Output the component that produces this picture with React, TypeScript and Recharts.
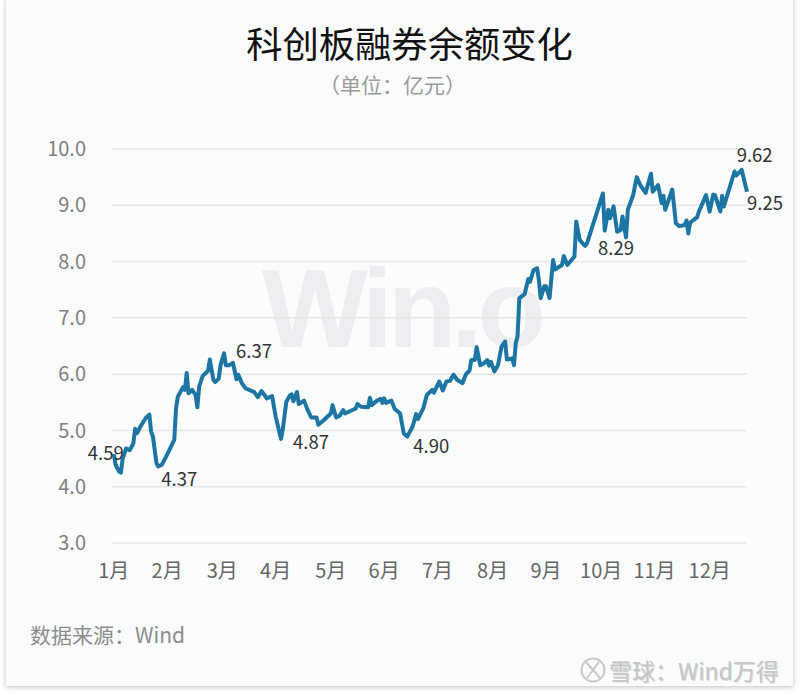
import { LineChart, Line, XAxis, YAxis, CartesianGrid, ReferenceDot } from "recharts";

const days = [
  0, 1, 3, 4, 5, 7, 9, 11, 12, 13, 15, 18, 20, 21, 22, 24, 25, 27, 30, 34, 35, 36, 39, 40, 41, 42, 44, 46, 47, 48, 50, 53, 54, 56, 57, 59,
  60, 62, 63, 65, 67, 69, 70, 72, 74, 79, 81, 83, 85, 86, 89, 91, 94, 95, 97, 99, 100, 101, 103, 104, 107, 109, 111, 114, 115, 118,
  122, 123, 125, 127, 129, 130, 136, 137, 139, 143, 144, 145, 148, 150, 151, 152, 153, 156, 158, 161,
  163, 165, 168, 170, 171, 174, 176, 179, 180, 183, 185, 187, 189, 191, 193, 196, 198, 200, 201, 203, 204, 206, 208, 210, 211, 212, 214, 216, 218, 220, 221, 224, 225, 226,
  227, 228, 231, 233, 234, 236, 238, 239, 240, 242, 243, 245, 247, 248, 252, 253, 255, 259, 260, 262, 265, 266,
  275, 276, 278, 279, 281, 283, 285, 286, 288, 289, 292, 294, 296, 299, 302, 303, 306, 308, 309, 310, 314,
  316, 318, 321, 322, 323, 324, 328, 329, 332, 333, 335, 337, 338, 341, 342, 343, 349, 350, 353, 356,
];

const balance = [
  4.58, 4.39, 4.27, 4.25, 4.5, 4.68, 4.65, 4.77, 5.03, 4.95, 5.07, 5.22, 5.28, 4.98, 4.89, 4.42, 4.36, 4.39, 4.57, 4.83, 5.39, 5.6, 5.77, 5.72, 6.02, 5.66, 5.72, 5.63, 5.41, 5.78, 5.97, 6.06, 6.26, 5.9, 5.86, 5.92,
  6.16, 6.37, 6.16, 6.16, 6.2, 5.91, 5.99, 5.84, 5.75, 5.68, 5.59, 5.7, 5.62, 5.57, 5.61, 5.25, 4.85, 5.01, 5.51, 5.62, 5.64, 5.52, 5.68, 5.47, 5.53, 5.36, 5.23, 5.23, 5.1, 5.18,
  5.3, 5.45, 5.23, 5.26, 5.36, 5.3, 5.39, 5.47, 5.42, 5.41, 5.58, 5.45, 5.53, 5.56, 5.49, 5.57, 5.49, 5.53, 5.38, 5.3,
  4.95, 4.89, 5.07, 5.29, 5.2, 5.39, 5.63, 5.72, 5.67, 5.87, 5.71, 5.87, 5.88, 5.99, 5.9, 5.84, 6.0, 6.06, 6.25, 6.25, 6.48, 6.16, 6.19, 6.25, 6.15, 6.22, 6.05, 6.16, 6.49, 6.58, 6.26, 6.28, 6.16, 6.55,
  6.67, 7.35, 7.42, 7.69, 7.64, 7.85, 7.88, 7.67, 7.35, 7.56, 7.56, 7.35, 8.03, 7.86, 7.94, 8.1, 7.94, 8.09, 8.71, 8.38, 8.28, 8.32,
  9.21, 8.55, 8.92, 8.77, 8.98, 8.53, 8.56, 8.8, 8.43, 8.92, 9.18, 9.5, 9.36, 9.22, 9.56, 9.24, 9.36, 9.04, 9.17, 8.92, 9.28,
  8.68, 8.63, 8.65, 8.73, 8.5, 8.69, 8.79, 8.89, 9.11, 9.18, 8.89, 9.19, 9.18, 8.89, 9.17, 8.98, 9.6, 9.53, 9.63, 9.24,
];

const monthTicks = [0, 30, 61, 91, 122, 152, 182, 213, 243, 274, 304, 335];
const monthLabels = ["1月", "2月", "3月", "4月", "5月", "6月", "7月", "8月", "9月", "10月", "11月", "12月"];
const valueTicks = [3, 4, 5, 6, 7, 8, 9, 10];

const calloutDays = [0, 25, 62, 94, 165, 288, 353, 356];
const calloutValues = [4.58, 4.36, 6.37, 4.85, 4.89, 8.43, 9.63, 9.24];
const calloutLabels = ["4.59", "4.37", "6.37", "4.87", "4.90", "8.29", "9.62", "9.25"];
const calloutOffsets = [[-8, -2], [21, 12], [30, -3], [30, 2], [24, 8], [-10, 10], [13, -16], [18, 10]];

const rows = days.map((day, i) => ({ day, value: balance[i] }));
const cjk = '"Noto Sans CJK SC", "Noto Sans", sans-serif';

export default function App() {
  return (
    <div style={{ position: "absolute", left: 0, top: 0, width: 800, height: 695, background: "#fff", overflow: "hidden", fontFamily: cjk }}>
      <div style={{ position: "absolute", left: 6, top: -4, width: 787, height: 690, background: "#fbfcfe", boxShadow: "0 1px 5px rgba(0,0,0,0.25)" }} />
      <div style={{ position: "absolute", left: 0, width: 819, top: 17, textAlign: "center", fontSize: 36.3, lineHeight: "50px", color: "#111" }}>科创板融券余额变化</div>
      <div style={{ position: "absolute", left: 0, width: 785, top: 69, textAlign: "center", fontSize: 21, lineHeight: "30px", color: "#9a9a9a" }}>（单位：亿元）</div>
      <div style={{ position: "absolute", left: 262, top: 268, fontFamily: '"Liberation Sans", sans-serif', fontWeight: 700, fontSize: 112, lineHeight: "82px", letterSpacing: -5, color: "#edeef1", whiteSpace: "nowrap" }}>Win.o</div>
      <div style={{ position: "absolute", left: 30, top: 618, fontSize: 21, lineHeight: "32px", color: "#8c8c8c" }}>数据来源：Wind</div>
      <svg width={28} height={28} style={{ position: "absolute", left: 579, top: 656 }}>
        <circle cx={14} cy={14} r={11.5} fill="none" stroke="#c8c8c8" strokeWidth={2} />
        <path d="M7 6 L14 14 L8 22 M20 6 L14 14 L21 22" fill="none" stroke="#c8c8c8" strokeWidth={2} />
      </svg>
      <div style={{ position: "absolute", left: 609, top: 654, fontSize: 23, lineHeight: "32px", color: "#c6c6c6", textShadow: "1px 1px 0 #8f8f8f55", whiteSpace: "nowrap" }}>雪球：Wind万得</div>
      <div style={{ position: "absolute", left: 0, top: 0 }}>
        <LineChart width={800} height={695} data={rows} margin={{ top: 149, right: 53, bottom: 112, left: 12 }}>
          <CartesianGrid vertical={false} stroke="#e6e6e6" strokeWidth={1.5} />
          <XAxis
            dataKey="day"
            type="number"
            domain={[-1, 356]}
            ticks={monthTicks}
            interval={0}
            tickFormatter={(d: number) => monthLabels[monthTicks.indexOf(d)]}
            axisLine={false}
            tickLine={false}
            height={40}
            tickMargin={15}
            tick={{ fontSize: 20, fill: "#666", fontFamily: cjk }}
          />
          <YAxis
            type="number"
            domain={[3, 10]}
            ticks={valueTicks}
            width={100}
            tickFormatter={(v: number) => v.toFixed(1)}
            axisLine={false}
            tickLine={false}
            tickMargin={20}
            tick={{ fontSize: 20, fill: "#7f7f7f", fontFamily: cjk }}
          />
          <Line dataKey="value" type="linear" stroke="#1c75a3" strokeWidth={4} strokeLinejoin="round" dot={false} isAnimationActive={false} />
          {calloutLabels.map((label, i) => (
            <ReferenceDot
              key={label}
              x={calloutDays[i]}
              y={calloutValues[i]}
              r={0}
              shape={(p: any) => (
                <text x={p.cx + calloutOffsets[i][0]} y={p.cy + calloutOffsets[i][1]} textAnchor="middle" dominantBaseline="central" fontSize={18.5} fill="#333" fontFamily={cjk}>
                  {label}
                </text>
              )}
            />
          ))}
        </LineChart>
      </div>
    </div>
  );
}
